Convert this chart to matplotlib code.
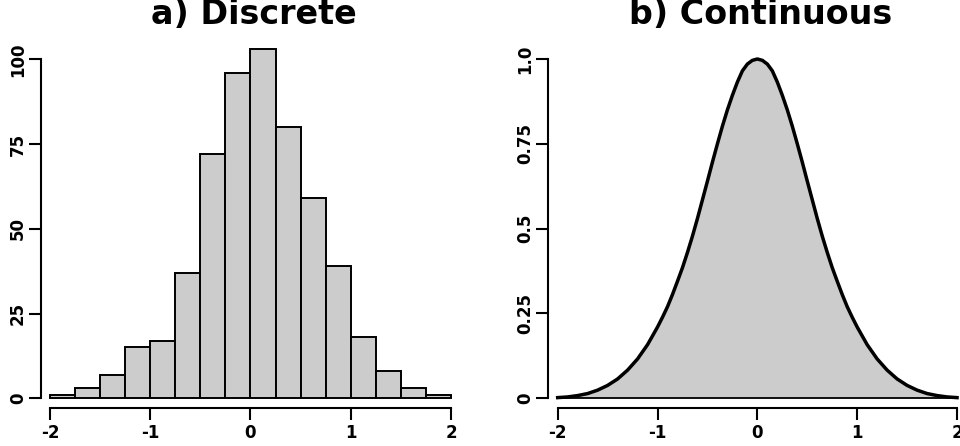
import matplotlib
matplotlib.use("Agg")
import matplotlib.pyplot as plt
import numpy as np

plt.rcParams['font.family'] = ['DejaVu Sans']
plt.rcParams['font.weight'] = 'bold'
plt.rcParams['axes.unicode_minus'] = False

# a) histogram: bin left edges (width 0.25) and counts
bin_left = [-2.0, -1.75, -1.5, -1.25, -1.0, -0.75, -0.5, -0.25,
            0.0, 0.25, 0.5, 0.75, 1.0, 1.25, 1.5, 1.75]
bin_width = 0.25
counts = [1, 3, 7, 15, 17, 37, 72, 96, 103, 80, 59, 39, 18, 8, 3, 1]

# b) continuous curve (finer steps near the middle)
curve_x = [-2.0, -1.9, -1.8, -1.7, -1.6, -1.5, -1.4, -1.3, -1.2, -1.1,
           -1.0, -0.95, -0.9, -0.85, -0.8, -0.75, -0.7, -0.65, -0.6, -0.55,
           -0.5, -0.45, -0.4, -0.35, -0.3, -0.25, -0.2, -0.15, -0.1, -0.05,
           0.0,
           0.05, 0.1, 0.15, 0.2, 0.25, 0.3, 0.35, 0.4, 0.45, 0.5,
           0.55, 0.6, 0.65, 0.7, 0.75, 0.8, 0.85, 0.9, 0.95, 1.0,
           1.1, 1.2, 1.3, 1.4, 1.5, 1.6, 1.7, 1.8, 1.9, 2.0]
curve_y = [0.002, 0.004, 0.008, 0.014, 0.024, 0.038, 0.057, 0.083, 0.116, 0.158,
           0.21, 0.239, 0.27, 0.306, 0.345, 0.385, 0.43, 0.478, 0.53, 0.585,
           0.64, 0.696, 0.75, 0.802, 0.85, 0.893, 0.932, 0.965, 0.985, 0.996,
           1.0,
           0.996, 0.985, 0.965, 0.932, 0.893, 0.85, 0.802, 0.75, 0.696, 0.64,
           0.585, 0.53, 0.478, 0.43, 0.385, 0.345, 0.306, 0.27, 0.239, 0.21,
           0.158, 0.116, 0.083, 0.057, 0.038, 0.024, 0.014, 0.008, 0.004, 0.002]

x_ticks = [-2, -1, 0, 1, 2]
x_labels = ['-2', '-1', '0', '1', '2']
y_ticks_a = [0, 25, 50, 75, 100]
y_labels_a = ['0', '25', '50', '75', '100']
y_ticks_b = [0, 0.25, 0.5, 0.75, 1.0]
y_labels_b = ['0', '0.25', '0.5', '0.75', '1.0']

W, H = 960, 446
fig = plt.figure(figsize=(W / 100, H / 100), dpi=100)


def px_axes(left, right, top, bottom):
    return fig.add_axes([left / W, 1 - bottom / H, (right - left) / W, (bottom - top) / H])


def style_axes(ax, yticks, ylabels, ybounds):
    for side in ('top', 'right'):
        ax.spines[side].set_visible(False)
    for side in ('left', 'bottom'):
        ax.spines[side].set_linewidth(1.5)
    ax.spines['left'].set_bounds(*ybounds)
    ax.spines['bottom'].set_bounds(-2, 2)
    ax.set_xticks(x_ticks)
    ax.set_xticklabels(x_labels, fontsize=12, fontweight='bold')
    ax.set_yticks(yticks)
    ax.set_yticklabels(ylabels, fontsize=12, fontweight='bold', rotation=90, va='center')
    ax.tick_params(axis='both', direction='out', length=8.6, width=1.5)
    ax.tick_params(axis='x', pad=3)
    ax.tick_params(axis='y', pad=1.5)
    ax.patch.set_visible(False)


# panel a
ax1 = px_axes(41, 467, 31, 408)
ax1.bar(bin_left, counts, width=bin_width, align='edge',
        color='#cccccc', edgecolor='black', linewidth=1.4)
ax1.set_xlim(-2.09, 2.16)
ax1.set_ylim(-2.86, 108.35)
style_axes(ax1, y_ticks_a, y_labels_a, (0, 100))
ax1.set_title('a) Discrete', fontsize=24, fontweight='bold', pad=-0.5)

# panel b
ax2 = px_axes(548.3, 973, 31, 408)
ax2.fill_between(curve_x, curve_y, 0, color='#cccccc', edgecolor='none')
ax2.plot([curve_x[0], curve_x[-1]], [0, 0], color='black', linewidth=1.3)
ax2.plot(curve_x, curve_y, color='black', linewidth=2.5,
         solid_joinstyle='round')
ax2.set_xlim(-2.094, 2.16)
ax2.set_ylim(-0.0286, 1.0825)
style_axes(ax2, y_ticks_b, y_labels_b, (0, 1))
ax2.set_title('b) Continuous', fontsize=24, fontweight='bold', pad=-0.5)

fig.savefig('out.png', dpi=100)
